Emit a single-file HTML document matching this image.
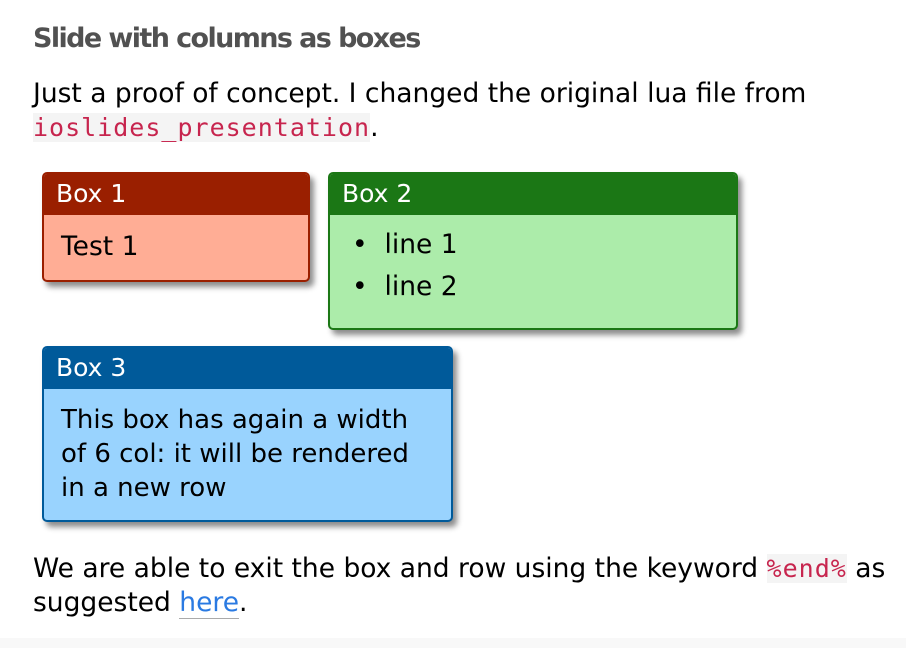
<!DOCTYPE html>
<html><head><meta charset="utf-8"><style>
body{margin:0;width:906px;height:648px;background:#fff;position:relative;overflow:hidden;font-family:"DejaVu Sans","Liberation Sans",sans-serif;color:#000}
.a{position:absolute;white-space:nowrap}
h1{position:absolute;left:33px;top:23px;margin:0;font-size:27px;font-weight:bold;color:#515151;letter-spacing:-1.6px;font-family:"DejaVu Sans",sans-serif}
.p{font-size:26.5px;line-height:34px}
code{font-family:"DejaVu Sans Mono","Liberation Mono",monospace;color:#c7254e;background:#f4f4f4;font-size:25px;letter-spacing:1px}
.box{position:absolute;box-sizing:border-box;border-radius:5px;box-shadow:4px 5px 6px rgba(0,0,0,.45);overflow:hidden;border:2px solid}
.hd{height:42px;color:#fff;font-size:25px;line-height:42px;padding-left:12px;margin:-1px 0 0}
.bd{font-size:26.5px;line-height:34px}
</style></head><body>
<h1>Slide with columns as boxes</h1>
<div class="a p" style="left:33px;top:77px">Just a proof of concept. I changed the original lua file from<br><code>ioslides_presentation</code>.</div>
<div class="box" style="left:42px;top:172px;width:268px;height:110px;border-color:#9a1f00;background:#ffad95">
<div class="hd" style="background:#9a1f00">Box 1</div>
<div class="bd" style="padding:15px 0 0 17px">Test 1</div></div>
<div class="box" style="left:328px;top:172px;width:410px;height:158px;border-color:#1b7715;background:#acecaa">
<div class="hd" style="background:#1b7715">Box 2</div>
<div class="bd" style="padding:9px 0 0 22px;line-height:42px">•&nbsp; line 1<br>•&nbsp; line 2</div></div>
<div class="box" style="left:42px;top:346px;width:411px;height:176px;border-color:#005a9a;background:#99d3fe">
<div class="hd" style="background:#005a9a">Box 3</div>
<div class="bd" style="padding:14px 0 0 17px;font-size:26px">This box has again a width<br>of 6 col: it will be rendered<br>in a new row</div></div>
<div class="a p" style="left:33px;top:552px">We are able to exit the box and row using the keyword <code>%end%</code> as<br>suggested <span style="color:#2a7ae2;border-bottom:1px solid #aaa">here</span>.</div>
<div class="a" style="left:0;top:638px;width:906px;height:10px;background:#f8f8f8"></div>
</body></html>
